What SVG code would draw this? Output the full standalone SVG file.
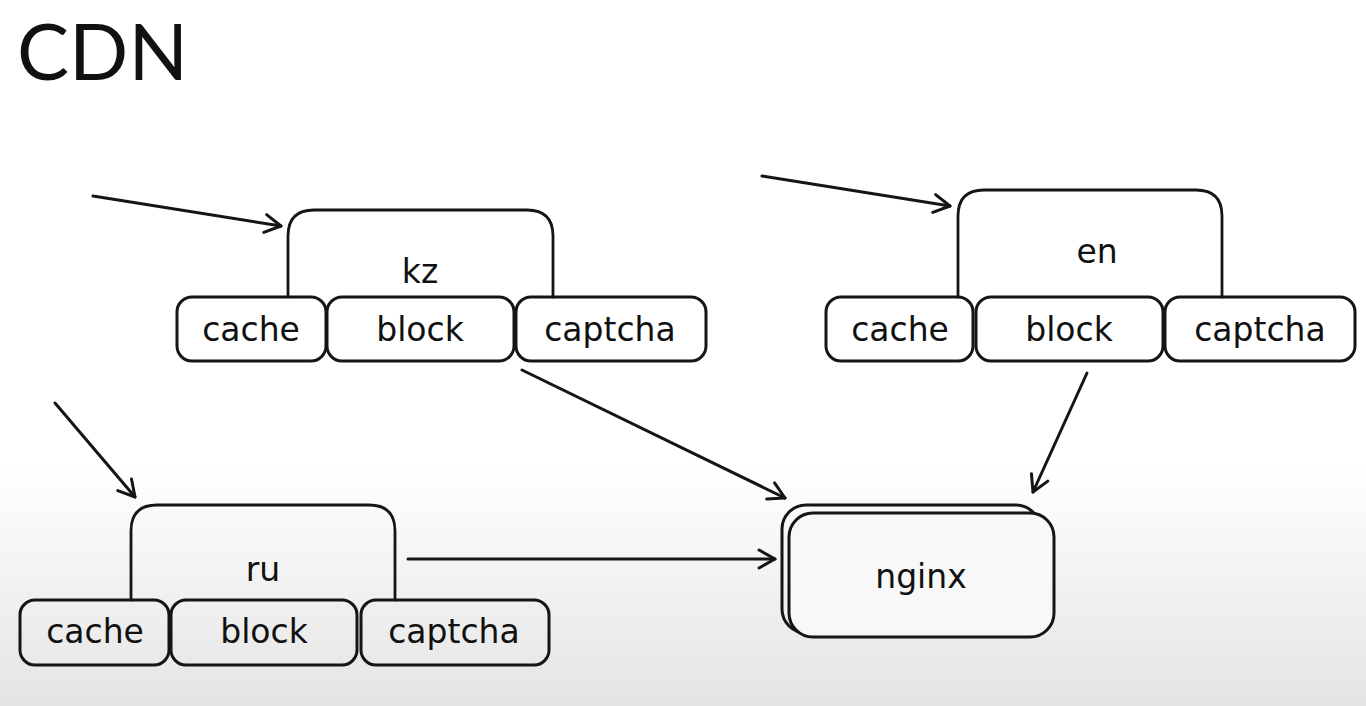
<svg xmlns="http://www.w3.org/2000/svg" width="1366" height="706" viewBox="0 0 1366 706">
  <defs>
    <linearGradient id="bg" x1="0" y1="0" x2="0" y2="1">
      <stop offset="0" stop-color="#ffffff"/>
      <stop offset="0.66" stop-color="#ffffff"/>
      <stop offset="1" stop-color="#e4e4e4"/>
    </linearGradient>
    <marker id="arr" viewBox="0 0 22 22" refX="20" refY="11" markerWidth="22" markerHeight="22" markerUnits="userSpaceOnUse" orient="auto">
      <path d="M4,2 L20,11 L4,20" fill="none" stroke="#151515" stroke-width="3" stroke-linecap="round" stroke-linejoin="round"/>
    </marker>
    <style>
      .box { fill: none; stroke: #151515; stroke-width: 3; stroke-linejoin: round; }
      .big { fill: none; stroke: #151515; stroke-width: 2.8; stroke-linecap: round; }
      .lbl { font-family: "DejaVu Sans", sans-serif; font-size: 33px; fill: #111; text-anchor: middle; }
      .conn { fill: none; stroke: #151515; stroke-width: 3; stroke-linecap: round; }
      .title { font-family: Lato, "Liberation Sans", sans-serif; font-size: 78px; fill: #111; }
    </style>
  </defs>
  <rect x="0" y="0" width="1366" height="706" fill="url(#bg)"/>

  <text class="title" x="17" y="80">CDN</text>

  <g id="kz">
    <path class="big" d="M288,297 V236 Q288,210 314,210 H527 Q553,210 553,236 V297"/>
    <text class="lbl" x="420" y="283">kz</text>
    <g id="kz-cache"><rect class="box" x="177" y="297" width="149" height="64" rx="15"/><text class="lbl" x="251" y="341">cache</text></g>
    <g id="kz-block"><rect class="box" x="327" y="297" width="187" height="64" rx="15"/><text class="lbl" x="420" y="341">block</text></g>
    <g id="kz-captcha"><rect class="box" x="516" y="297" width="190" height="64" rx="15"/><text class="lbl" x="610" y="341">captcha</text></g>
  </g>

  <g id="en">
    <path class="big" d="M958,297 V216 Q958,190 984,190 H1196 Q1222,190 1222,216 V297"/>
    <text class="lbl" x="1097" y="263">en</text>
    <g id="en-cache"><rect class="box" x="826" y="297" width="147" height="64" rx="15"/><text class="lbl" x="900" y="341">cache</text></g>
    <g id="en-block"><rect class="box" x="976" y="297" width="187" height="64" rx="15"/><text class="lbl" x="1069" y="341">block</text></g>
    <g id="en-captcha"><rect class="box" x="1165" y="297" width="190" height="64" rx="15"/><text class="lbl" x="1260" y="341">captcha</text></g>
  </g>

  <g id="ru">
    <path class="big" d="M131,600 V531 Q131,505 157,505 H369 Q395,505 395,531 V600"/>
    <text class="lbl" x="263" y="581">ru</text>
    <g id="ru-cache"><rect class="box" x="20" y="600" width="149" height="65" rx="15"/><text class="lbl" x="95" y="643">cache</text></g>
    <g id="ru-block"><rect class="box" x="171" y="600" width="186" height="65" rx="15"/><text class="lbl" x="264" y="643">block</text></g>
    <g id="ru-captcha"><rect class="box" x="361" y="600" width="188" height="65" rx="15"/><text class="lbl" x="454" y="643">captcha</text></g>
  </g>

  <g id="nginx">
    <rect class="box" x="782" y="505" width="258" height="128" rx="24"/>
    <rect class="box" x="789" y="513" width="265" height="124" rx="24" style="fill:#f8f8f8"/>
    <text class="lbl" x="921" y="588">nginx</text>
  </g>

  <g id="connectors">
    <path class="conn" d="M93,196 L281,226" marker-end="url(#arr)"/>
    <path class="conn" d="M762,176 L950,206" marker-end="url(#arr)"/>
    <path class="conn" d="M55,403 L135,497" marker-end="url(#arr)"/>
    <path class="conn" d="M522,370 L785,498" marker-end="url(#arr)"/>
    <path class="conn" d="M1087,373 L1033,492" marker-end="url(#arr)"/>
    <path class="conn" d="M408,559 L775,559" marker-end="url(#arr)"/>
  </g>
</svg>
